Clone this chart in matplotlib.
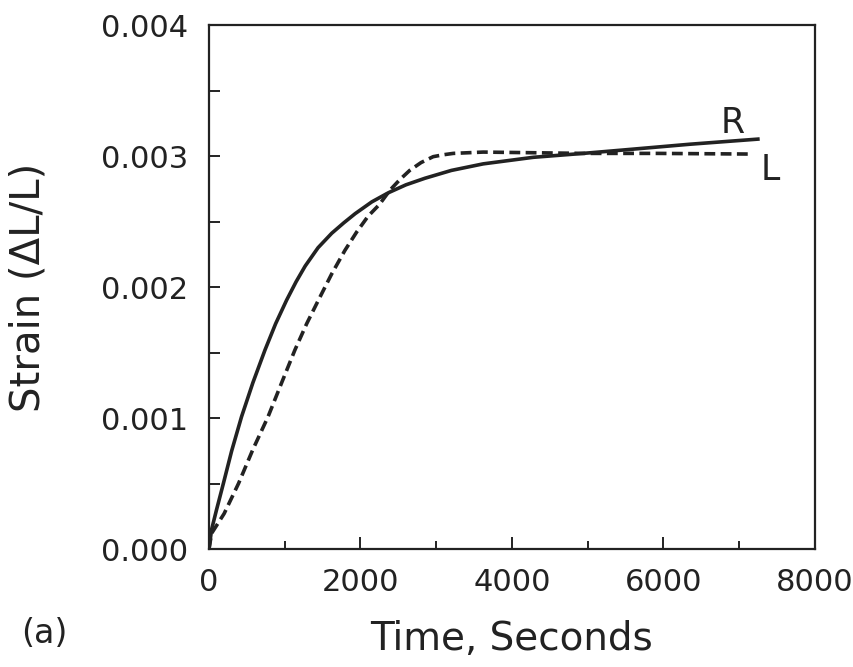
import matplotlib
matplotlib.use("Agg")
from matplotlib import pyplot as plt
from matplotlib.ticker import MultipleLocator

# solid curve (R)
time_r = [0, 35, 100, 190, 300, 430, 580, 740, 880, 1025, 1150, 1270,
          1440, 1620, 1780, 1930, 2150, 2370, 2600, 2850, 3200, 3620,
          4280, 4940, 5470, 6350, 7270]
strain_r = [0.0, 0.00015, 0.0003, 0.0005, 0.00075, 0.00101, 0.00127,
            0.00152, 0.00172, 0.0019, 0.00204, 0.00216, 0.0023, 0.00241,
            0.00249, 0.00256, 0.00265, 0.00272, 0.00278, 0.00283,
            0.00289, 0.00294, 0.00299, 0.00302, 0.003046, 0.00309,
            0.00313]

# dashed curve (L)
time_l = [0, 35, 200, 390, 580, 780, 960, 1135, 1290, 1445, 1620, 1795,
          1950, 2100, 2250, 2390, 2520, 2650, 2800, 2960, 3100, 3225,
          3620, 4280, 4940, 5910, 7140]
strain_l = [0.0, 0.00012, 0.00027, 0.0005, 0.00076, 0.00101, 0.00127,
            0.00152, 0.00172, 0.0019, 0.0021, 0.00228, 0.00242, 0.00254,
            0.00263, 0.00274, 0.00282, 0.00289, 0.00295, 0.002995,
            0.00301, 0.00302, 0.00303, 0.003025, 0.00302, 0.00302,
            0.003015]

ink = "#222222"
plt.rcParams["font.family"] = ["DejaVu Sans"]

fig = plt.figure(figsize=(8.54, 6.67), dpi=100)
ax = fig.add_axes([0.2447, 0.1769, 0.7096, 0.7856])

ax.plot(time_r, strain_r, color=ink, lw=2.6, solid_capstyle="butt",
        solid_joinstyle="round")
ax.plot(time_l, strain_l, color=ink, lw=2.6, dashes=(3.0, 1.5))

ax.text(6917, 0.003252, "R", fontsize=25, color=ink, ha="center", va="center")
ax.text(7406, 0.002893, "L", fontsize=25, color=ink, ha="center", va="center")

ax.set_xlim(0, 8000)
ax.set_ylim(0, 0.004)
ax.xaxis.set_major_locator(MultipleLocator(2000))
ax.xaxis.set_minor_locator(MultipleLocator(1000))
ax.yaxis.set_major_locator(MultipleLocator(0.001))
ax.yaxis.set_minor_locator(MultipleLocator(0.0005))
ax.yaxis.set_major_formatter(plt.FormatStrFormatter("%.3f"))

ax.tick_params(which="both", direction="in", color=ink, width=1.4,
               labelsize=22, labelcolor=ink, top=False, right=False)
ax.tick_params(axis="x", which="major", length=9, pad=14)
ax.tick_params(axis="x", which="minor", length=6)
ax.tick_params(axis="y", which="both", length=8, pad=15)

for sp in ax.spines.values():
    sp.set_linewidth(1.6)
    sp.set_color(ink)

ax.set_xlabel("Time, Seconds", fontsize=28, color=ink, labelpad=16)
ax.set_ylabel("Strain (ΔL/L)", fontsize=29, color=ink, labelpad=38)
fig.text(0.052, 0.05, "(a)", fontsize=24, color=ink, ha="center", va="center")

fig.savefig("out.png", dpi=100)
